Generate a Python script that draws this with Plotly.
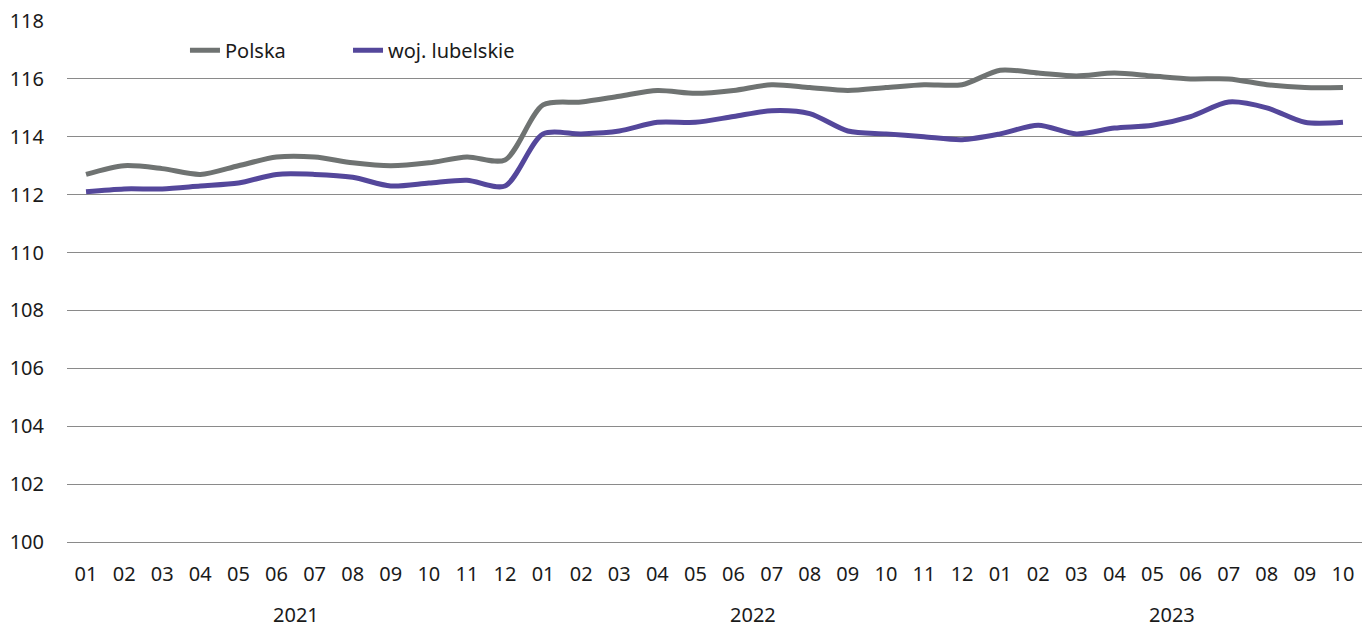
import plotly.graph_objects as go

months = ["01","02","03","04","05","06","07","08","09","10","11","12",
          "01","02","03","04","05","06","07","08","09","10","11","12",
          "01","02","03","04","05","06","07","08","09","10"]
years = ["2021", "2022", "2023"]
year_centers = [5.5, 17.5, 28.5]

polska = [112.7, 113.0, 112.9, 112.7, 113.0, 113.3, 113.3, 113.1, 113.0, 113.1, 113.3, 113.2,
          115.1, 115.2, 115.4, 115.6, 115.5, 115.6, 115.8, 115.7, 115.6, 115.7, 115.8, 115.8,
          116.3, 116.2, 116.1, 116.2, 116.1, 116.0, 116.0, 115.8, 115.7, 115.7]
lubelskie = [112.1, 112.2, 112.2, 112.3, 112.4, 112.7, 112.7, 112.6, 112.3, 112.4, 112.5, 112.3,
             114.1, 114.1, 114.2, 114.5, 114.5, 114.7, 114.9, 114.8, 114.2, 114.1, 114.0, 113.9,
             114.1, 114.4, 114.1, 114.3, 114.4, 114.7, 115.2, 115.0, 114.5, 114.5]

x = list(range(len(months)))
FONT = "Noto Sans"
TXT = "#1a1a1a"
GRID = "#8a8a8a"

fig = go.Figure()
fig.add_trace(go.Scatter(x=x, y=polska, name="Polska", mode="lines", legend="legend",
                         line=dict(color="#6f7372", width=5, shape="spline", smoothing=0.8)))
fig.add_trace(go.Scatter(x=x, y=lubelskie, name="woj. lubelskie", mode="lines", legend="legend2",
                         line=dict(color="#54479b", width=5, shape="spline", smoothing=0.8)))

for yr, c in zip(years, year_centers):
    fig.add_annotation(x=c, y=0, xref="x", yref="paper", yshift=-88, text=yr,
                       showarrow=False, font=dict(family=FONT, size=20, color=TXT))

leg_common = dict(orientation="h", y=0.944, xanchor="left", yanchor="middle",
                  bgcolor="rgba(0,0,0,0)", font=dict(family=FONT, size=20, color=TXT))

fig.update_layout(
    width=1371, height=628,
    margin=dict(l=67, r=9, t=21, b=86),
    plot_bgcolor="white", paper_bgcolor="white",
    font=dict(family=FONT, size=20, color=TXT),
    showlegend=True,
    legend=dict(x=0.0911, **leg_common),
    legend2=dict(x=0.217, **leg_common),
    xaxis=dict(range=[-0.5, 33.5], tickmode="array", tickvals=x, ticktext=months,
               showgrid=False, zeroline=False, showline=True, linecolor=GRID, linewidth=1,
               ticks="", ticklen=0,
               tickfont=dict(size=20), ticklabelstandoff=14, automargin=False),
    yaxis=dict(range=[100, 118], dtick=2, tick0=100, showgrid=True, gridcolor=GRID,
               gridwidth=1, zeroline=False, showline=False, ticks="",
               tickfont=dict(size=20), ticklabelstandoff=22, automargin=False),
)

fig.write_html("out.html", config={"displayModeBar": False},
               post_script="document.body.style.margin='0';")
